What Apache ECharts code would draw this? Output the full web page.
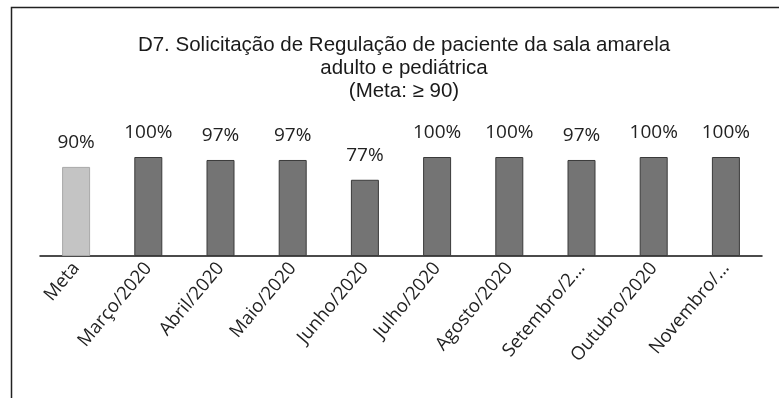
<!DOCTYPE html>
<html>
<head>
<meta charset="utf-8">
<script src="https://cdn.jsdelivr.net/npm/echarts@6/dist/echarts.min.js"></script>
<style>
  html, body { margin: 0; padding: 0; background: #fff; }
  #chart { width: 779px; height: 406px; }
</style>
</head>
<body>
<div id="chart"></div>
<script>
// categorias e valores
const categorias = ['Meta', 'Março/2020', 'Abril/2020', 'Maio/2020', 'Junho/2020', 'Julho/2020',
    'Agosto/2020', 'Setembro/2...', 'Outubro/2020', 'Novembro/...'];
const valores = [90, 100, 97, 97, 77, 100, 100, 97, 100, 100];
const titulo = 'D7. Solicitação de Regulação de paciente da sala amarela\nadulto e pediátrica\n(Meta: ≥ 90)';

var myChart = echarts.init(document.getElementById('chart'));

var option = {
    backgroundColor: '#fff',
    animation: false,
    title: {
        text: titulo,
        left: 399,
        textAlign: 'center',
        top: 29,
        textStyle: {
            fontFamily: '"Liberation Sans", Arial, sans-serif',
            fontWeight: 'normal',
            fontSize: 20.5,
            lineHeight: 23,
            color: '#1a1a1a'
        }
    },
    // moldura (só topo e lado esquerdo aparecem na digitalização)
    graphic: [{
        type: 'polyline',
        shape: { points: [[11.5, 398], [11.5, 7.5], [779, 7.5]] },
        style: { fill: 'none', stroke: '#222', lineWidth: 1.5 }
    }],
    grid: { left: 40, right: 17, top: 157, bottom: 150 },
    xAxis: {
        type: 'category',
        data: categorias,
        axisLine: { lineStyle: { color: '#111', width: 1.5 } },
        axisTick: { show: false },
        axisLabel: {
            rotate: 50,
            interval: 0,
            margin: 9,
            fontFamily: '"Open Sans", sans-serif',
            fontSize: 18.5,
            color: '#222'
        }
    },
    yAxis: {
        type: 'value',
        min: 0,
        max: 100,
        show: false
    },
    series: [{
        type: 'bar',
        barWidth: 28,
        data: valores.map(function (v, i) {
            return {
                value: v,
                itemStyle: { color: i === 0 ? '#c4c4c4' : '#747474', borderColor: i === 0 ? '#a8a8a8' : '#3a3a3a', borderWidth: 1 }
            };
        }),
        label: {
            show: true,
            position: 'top',
            distance: 15,
            formatter: '{c}%',
            fontFamily: '"Open Sans", sans-serif',
            fontSize: 19,
            color: '#222'
        }
    }]
};

myChart.setOption(option);
</script>
</body>
</html>
